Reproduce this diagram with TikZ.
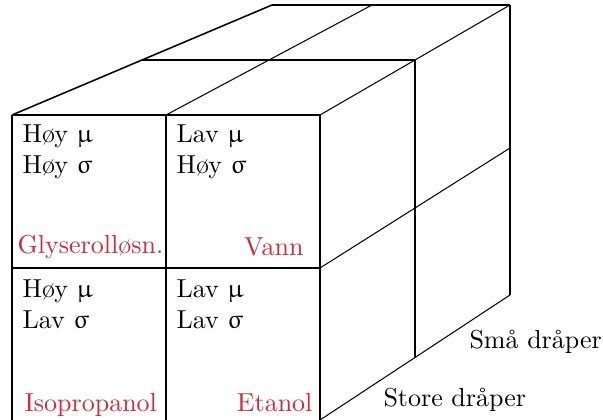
\documentclass[tikz,border=0pt]{standalone}
\usepackage{fontspec}
\usepackage{upgreek}
\definecolor{lblred}{RGB}{200,45,60}
\begin{document}
\begin{tikzpicture}[x=0.3846pt,y=-0.3846pt,
  edge/.style={draw=black,line width=0.4pt},
  prop/.style={anchor=base west,inner sep=0pt},
  fluid/.style={inner sep=0pt,text=lblred},
  axislbl/.style={anchor=base west,inner sep=0pt}]
\useasboundingbox (0,0) rectangle (603,420);
% front face
\coordinate (fA) at (12,115);
\coordinate (fB) at (166,115);
\coordinate (fC) at (320,115);
\coordinate (fD) at (12,268);
\coordinate (fE) at (166,268);
\coordinate (fF) at (320,268);
\coordinate (fG) at (12,420);
\coordinate (fH) at (166,420);
\coordinate (fI) at (320,420);
% top face
\coordinate (tA) at (272,5);
\coordinate (tB) at (372,5);
\coordinate (tC) at (510,5);
\coordinate (mA) at (142,60);
\coordinate (mC) at (415,60);
% right face
\coordinate (rM) at (415,208);
\coordinate (rR) at (510,148);
\coordinate (rB) at (415,358);
\coordinate (rBR) at (510,295);

\draw[edge] (fA) -- (fC) -- (fI);
\draw[edge] (fA) -- (fG);
\draw[edge] (fB) -- (fH);
\draw[edge] (fD) -- (fF);
\draw[edge,line width=0.6pt] (fA) -- (tA);
\draw[edge] (tA) -- (tC);
\draw[edge] (fB) -- (tB);
\draw[edge] (fC) -- (tC);
\draw[edge] (mA) -- (mC);
\draw[edge] (tC) -- (rBR);
\draw[edge] (mC) -- (rB);
\draw[edge] (fF) -- (rR);
\draw[edge] (fI) -- (rBR);

\node[prop] (c1a) at (22,142) {Høy $\upmu$};
\node[prop] (c1b) at (22,173) {Høy $\upsigma$};
\node[prop] (c2a) at (176,142) {Lav $\upmu$};
\node[prop] (c2b) at (176,173) {Høy $\upsigma$};
\node[prop] (c3a) at (22,297) {Høy $\upmu$};
\node[prop] (c3b) at (22,328) {Lav $\upsigma$};
\node[prop] (c4a) at (176,297) {Lav $\upmu$};
\node[prop] (c4b) at (176,328) {Lav $\upsigma$};

\node[fluid,anchor=base west] (n1) at (17,253) {Glyserolløsn.};
\node[fluid,anchor=base east] (n2) at (304,255) {Vann};
\node[fluid,anchor=base west] (n3) at (24,411) {Isopropanol};
\node[fluid,anchor=base east] (n4) at (313,411) {Etanol};

\node[axislbl] (s1) at (469,348) {Små dråper};
\node[axislbl] (s2) at (383,406) {Store dråper};
\end{tikzpicture}
\end{document}
